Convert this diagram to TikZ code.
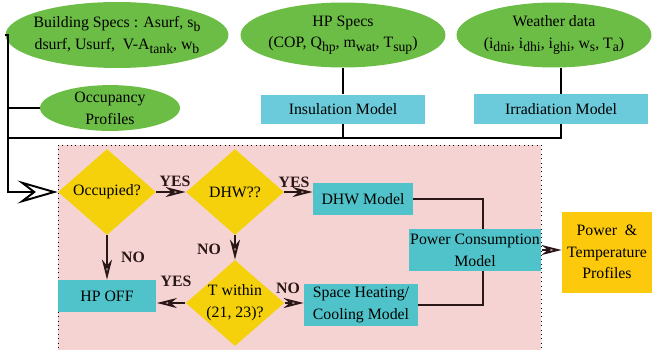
\documentclass[tikz,border=0pt]{standalone}
\usepackage{fontspec}
\setmainfont{Liberation Serif}
\usetikzlibrary{shapes.geometric,arrows.meta}
\definecolor{ellgreen}{HTML}{6CBD45}
\definecolor{condyellow}{HTML}{F4D10B}
\definecolor{profyellow}{HTML}{FDC90C}
\definecolor{modelcyan}{HTML}{4FC3C9}
\definecolor{topcyan}{HTML}{6BCBDB}
\definecolor{regionpink}{HTML}{F6D3D3}
\definecolor{linkdark}{HTML}{2A1616}
\newcommand{\lowsub}[1]{\raisebox{-0.5ex}{\fontsize{7.8}{8}\selectfont #1}}
\begin{document}
\begin{tikzpicture}
    [%%%%%%%%%%%%%%%%%%%%%%%%%%%%%%
        x=0.02cm, y=-0.02cm,
        every node/.style={font=\fontsize{9}{12.4}\selectfont, align=center},
        ellip/.style={ellipse, fill=ellgreen, inner xsep=-3.5pt, inner ysep=0pt},
        cond/.style={diamond, fill=condyellow, aspect=1.15, inner sep=0pt, minimum width=1.96cm, minimum height=1.72cm},
        inbox/.style={rectangle, fill=modelcyan, inner sep=0pt},
        topbox/.style={rectangle, fill=topcyan, inner sep=0pt},
        lbl/.style={font=\fontsize{9}{12.4}\selectfont\bfseries, text=linkdark},
        link/.style={draw=black, line width=1.1pt},
        arr/.style={draw=linkdark, line width=1.1pt, -{Stealth[open, length=0.4cm, width=0.2cm, inset=0.12cm]}},
        bigarr/.style={link, -{Stealth[open, length=0.8cm, width=0.46cm, inset=0.3cm]}},
    ]%%%%%%%%%%%%%%%%%%%%%%%%%%%%%%
\useasboundingbox (0,0) rectangle (652,349);
\draw[dotted, fill=regionpink, line width=0.5pt] (58,145) rectangle (541,352);
% inputs
\node[ellip, minimum width=4.46cm, minimum height=1.32cm] (bspec) at (117,35) {Building Specs : Asurf, s\lowsub{b}\\dsurf, Usurf,~ V-A\lowsub{tank}, w\lowsub{b}};
\node[ellip, minimum width=2.8cm, minimum height=0.86cm] (occp) at (110,108) {Occupancy\\Profiles};
\node[ellip, minimum width=4.1cm, minimum height=1.3cm] (hp) at (343,35) {HP Specs\\(COP, Q\lowsub{hp}, m\lowsub{wat}, T\lowsub{sup})};
\node[ellip, minimum width=3.9cm, minimum height=1.3cm] (wd) at (554,35) {Weather data\\(i\lowsub{dni}, i\lowsub{dhi}, i\lowsub{ghi}, w\lowsub{s}, T\lowsub{a})};
\node[topbox, minimum width=3.28cm, minimum height=0.58cm] (ins) at (343,109) {Insulation Model};
\node[topbox, minimum width=3.48cm, minimum height=0.6cm] (irr) at (561,109) {Irradiation Model};
% decisions
\node[cond] (occ) at (107,192) {Occupied?};
\node[cond] (dhw) at (235,192) {DHW??};
\node[cond] (tw) at (235,303) {T within\\(21, 23)?};
% models
\node[inbox, minimum width=1.98cm, minimum height=0.64cm] (hpoff) at (107,296) {HP OFF};
\node[inbox, minimum width=2cm, minimum height=0.64cm] (dm) at (363,199) {DHW Model};
\node[inbox, minimum width=2.66cm, minimum height=0.84cm] (pcm) at (475,250) {Power Consumption\\Model};
\node[inbox, minimum width=2.28cm, minimum height=0.84cm, align=left] (sh) at (361,305) {Space Heating/\\Cooling Model};
\node[fill=profyellow, inner sep=0pt, minimum width=1.8cm, minimum height=1.62cm] (prof) at (607,252) {Power ~\&\\Temperature\\Profiles};
% labels
\node[lbl] (yes1) at (175,181) {YES};
\node[lbl] (yes2) at (294,182) {YES};
\node[lbl] (no1) at (209,249) {NO};
\node[lbl] (no2) at (133,257) {NO};
\node[lbl] (yes3) at (176,281) {YES};
\node[lbl] (no3) at (288,288) {NO};
% connectors
\coordinate (trunk) at (8,192);
\coordinate (bus) at (8,138);
\draw[bigarr] (bspec.west) -| (trunk) -- (occ.west);
\draw[link] (occp.west) -- (occp.west -| trunk);
\draw[link] (irr.south) |- (bus);
\draw[link] (ins.south) -- (ins.south |- bus);
\draw[link] (hp.south) -- (ins.north);
\draw[link] (irr.north) -- (irr.north |- wd.south);
\draw[arr] (occ.east) -- (dhw.west);
\draw[arr] (dhw.east) -- (dhw.east -| dm.west);
\draw[arr] (dhw.south) -- (tw.north);
\draw[arr] (occ.south) -- (hpoff.north);
\draw[arr] (tw.west) -- (tw.west -| hpoff.east);
\draw[arr] (tw.east) -- (tw.east -| sh.west);
\draw[link, draw=linkdark] (dm.east) -| (pcm.70);
\draw[link, draw=linkdark] (sh.east) -| (pcm.-70);
\draw[arr] (pcm.east) -- (pcm.east -| prof.west);
\end{tikzpicture}
\end{document}
